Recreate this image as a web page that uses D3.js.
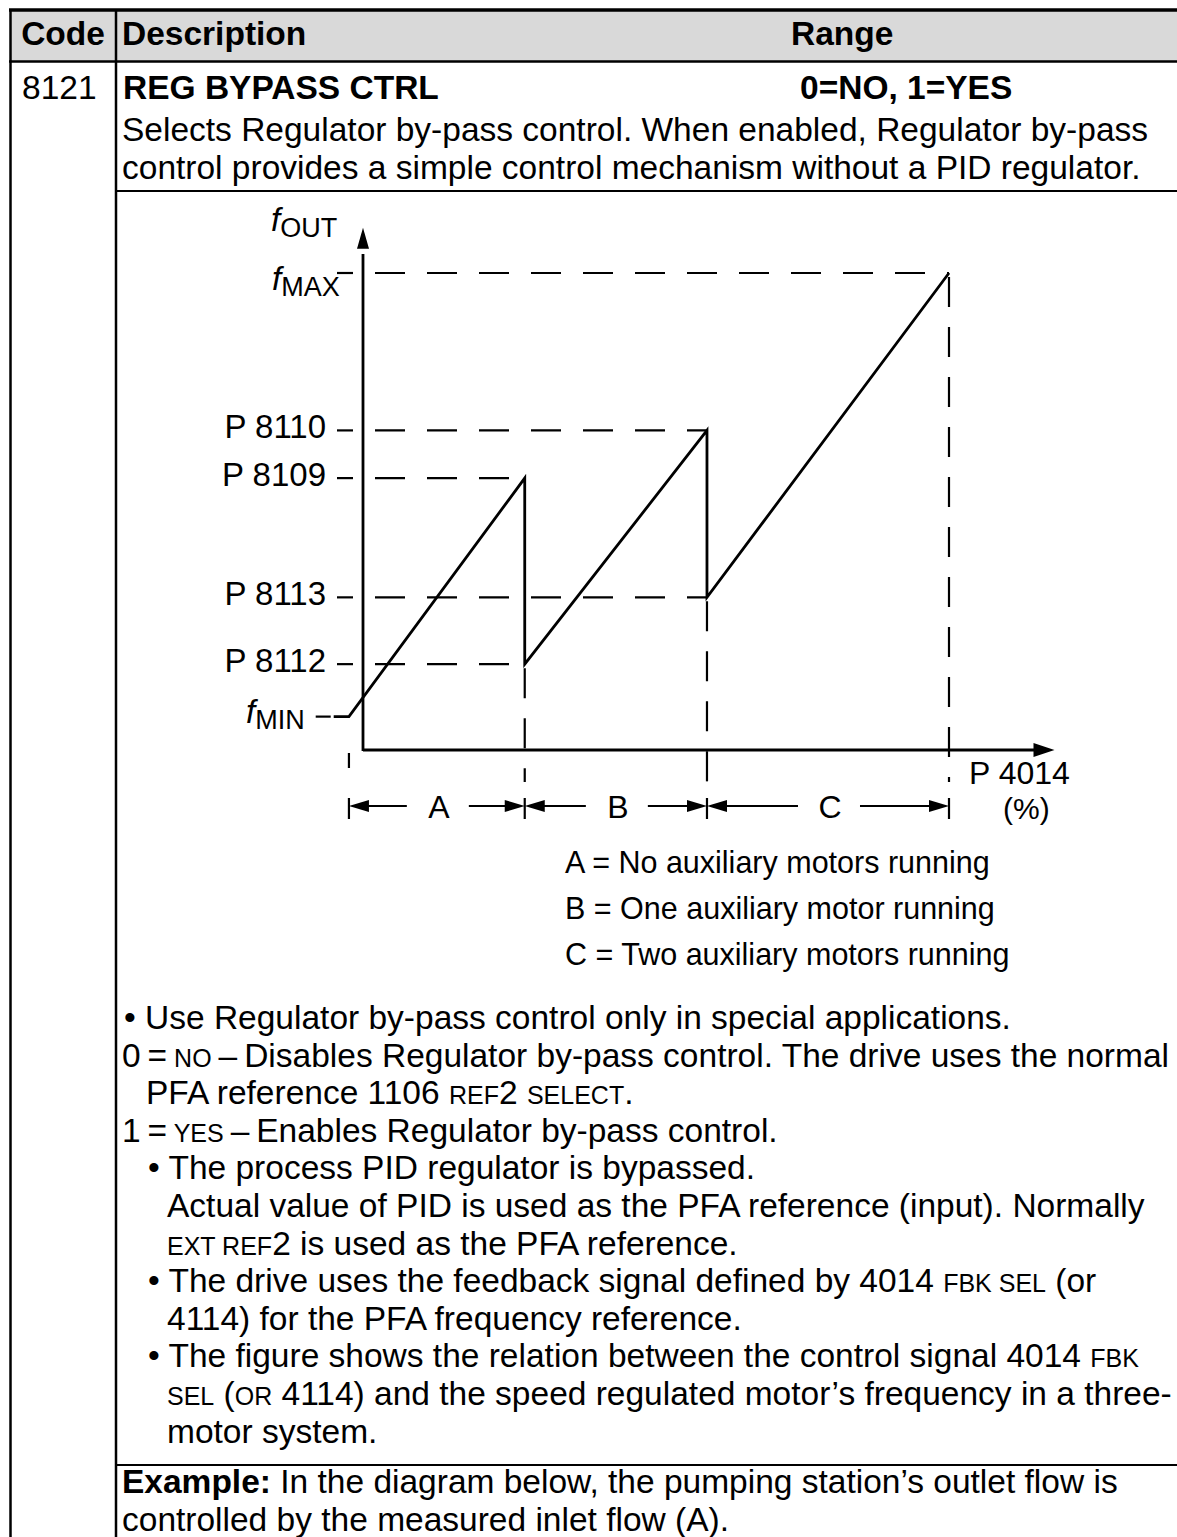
<!DOCTYPE html>
<html>
<head>
<meta charset="utf-8">
<script src="https://cdn.jsdelivr.net/npm/d3@7"></script>
<style>
  body { margin: 0; background: #fff; }
  svg { display: block; font-family: "Liberation Sans", Arial, sans-serif; }
</style>
</head>
<body>
<script>
// table header and parameter row
var headCols = ["Code", "Description", "Range"];
var paramCode = "8121";
var paramName = "REG BYPASS CTRL";
var paramRange = "0=NO, 1=YES";

var introLines = [
  "Selects Regulator by-pass control. When enabled, Regulator by-pass",
  "control provides a simple control mechanism without a PID regulator."
];

// diagram: output frequency levels (% of fMAX) and switching points (P 4014 %)
var levelNames  = ["MAX", "P 8110", "P 8109", "P 8113", "P 8112", "MIN"];
var levelValues = [100, 67, 57, 32, 18, 7];
var stageNames  = ["A", "B", "C"];
var stageBounds = [-2.4, 27.6, 58.7, 100];
var curveX = [-5, -2.4, 27.6, 27.6, 58.7, 58.7, 100];
var curveY = [7, 7, 57, 18, 67, 32, 100];

var legendLines = [
  "A = No auxiliary motors running",
  "B = One auxiliary motor running",
  "C = Two auxiliary motors running"
];

// body text, segments: plain string or [text, "sc" | "b"]
var bodyLines = [
  [124, ["•  Use Regulator by-pass control only in special applications."]],
  [122, ["0", [" ", "sc"], "=", [" NO ", "sc"], "–", [" ", "sc"], "Disables Regulator by-pass control. The drive uses the normal"]],
  [146, ["PFA reference 1106 ", ["REF", "sc"], "2 ", ["SELECT", "sc"], "."]],
  [122, ["1", [" ", "sc"], "=", [" YES ", "sc"], "–", [" ", "sc"], "Enables Regulator by-pass control."]],
  [148, ["• The process PID regulator is bypassed."]],
  [167, ["Actual value of PID is used as the PFA reference (input). Normally"]],
  [167, [["EXT REF", "sc"], "2 is used as the PFA reference."]],
  [148, ["• The drive uses the feedback signal defined by 4014 ", ["FBK SEL", "sc"], " (or"]],
  [167, ["4114) for the PFA frequency reference."]],
  [148, ["• The figure shows the relation between the control signal 4014 ", ["FBK", "sc"]]],
  [167, [["SEL", "sc"], " (", ["OR", "sc"], " 4114) and the speed regulated motor’s frequency in a three-"]],
  [167, ["motor system."]]
];
var exampleLines = [
  [["Example:", "b"], " In the diagram below, the pumping station’s outlet flow is"],
  ["controlled by the measured inlet flow (A)."]
];

var W = 1177, H = 1537;
var fs = 33.5, scFs = 25;

var svg = d3.select("body").append("svg")
    .attr("width", W)
    .attr("height", H);

function writeLine(g, x, y, segs, size) {
  var t = g.append("text").attr("x", x).attr("y", y).attr("font-size", size || fs);
  segs.forEach(function(s) {
    if (typeof s === "string") { t.append("tspan").text(s); return; }
    var sp = t.append("tspan").text(s[0]);
    if (s[1] === "sc") sp.attr("font-size", scFs);
    if (s[1] === "b") sp.attr("font-weight", "bold");
  });
  return t;
}

// ---- table frame ----
svg.append("rect").attr("x", 10).attr("y", 10).attr("width", W).attr("height", 52).attr("fill", "#d9d9d9");
svg.append("line").attr("x1", 9).attr("x2", W).attr("y1", 10).attr("y2", 10).attr("stroke", "#000").attr("stroke-width", 3.5);
svg.append("line").attr("x1", 9).attr("x2", W).attr("y1", 61.5).attr("y2", 61.5).attr("stroke", "#000").attr("stroke-width", 2.5);
[10.5, 116].forEach(function(x) {
  svg.append("line").attr("x1", x).attr("x2", x).attr("y1", 9).attr("y2", H).attr("stroke", "#000").attr("stroke-width", 2.5);
});
[191, 1465].forEach(function(y) {
  svg.append("line").attr("x1", 116).attr("x2", W).attr("y1", y).attr("y2", y).attr("stroke", "#000").attr("stroke-width", 2);
});

var hdr = svg.append("g").attr("font-weight", "bold").attr("font-size", fs);
hdr.append("text").attr("x", 63).attr("y", 45).attr("text-anchor", "middle").text(headCols[0]);
hdr.append("text").attr("x", 122).attr("y", 45).text(headCols[1]);
hdr.append("text").attr("x", 791).attr("y", 45).text(headCols[2]);

svg.append("text").attr("x", 22).attr("y", 99).attr("font-size", fs).text(paramCode);
hdr.append("text").attr("x", 123).attr("y", 99).text(paramName);
hdr.append("text").attr("x", 800).attr("y", 99).text(paramRange);

introLines.forEach(function(l, i) {
  svg.append("text").attr("x", 122).attr("y", 141 + i * 38).attr("font-size", fs).text(l);
});

// ---- diagram ----
var x = d3.scaleLinear().domain([0, 100]).range([363, 949]);
var y = d3.scaleLinear().domain([0, 100]).range([750, 273]);
var d = svg.append("g");

// dashed level lines and labels
var levelEnds = [100, 58.7, 27.6, 58.7, 27.6, null];
levelNames.forEach(function(name, i) {
  var yy = y(levelValues[i]);
  if (levelEnds[i] !== null) {
    d.append("line").attr("x1", x(0) + 12).attr("x2", x(levelEnds[i])).attr("y1", yy).attr("y2", yy)
      .attr("stroke", "#000").attr("stroke-width", 2.2).attr("stroke-dasharray", "30,22");
    d.append("line").attr("x1", x(0) - 26).attr("x2", x(0) - 10).attr("y1", yy).attr("y2", yy)
      .attr("stroke", "#000").attr("stroke-width", 2.2);
  } else {
    d.append("line").attr("x1", x(-5) - 18).attr("x2", x(-5) - 3).attr("y1", yy).attr("y2", yy)
      .attr("stroke", "#000").attr("stroke-width", 2.2);
  }
  if (name.indexOf("P") === 0) {
    d.append("text").attr("x", 326).attr("y", yy + 8).attr("text-anchor", "end").attr("font-size", 33).text(name);
  }
});

// f labels with subscripts
function fLabel(xx, yy, sub) {
  var t = d.append("text").attr("x", xx).attr("y", yy).attr("font-size", 33);
  t.append("tspan").attr("font-style", "italic").text("f");
  t.append("tspan").attr("font-size", 27).attr("dy", 6).text(sub);
}
fLabel(271, 231, "OUT");
fLabel(272, 290, levelNames[0]);
fLabel(246, y(levelValues[5]) + 6, levelNames[5]);

// vertical dashed lines at switching points
var dropLow = [null, 18, 32, 100];
stageBounds.forEach(function(b, i) {
  if (dropLow[i] === null) {
    d.append("line").attr("x1", x(b)).attr("x2", x(b)).attr("y1", 753).attr("y2", 768)
      .attr("stroke", "#000").attr("stroke-width", 2.2);
  } else {
    d.append("line").attr("x1", x(b)).attr("x2", x(b)).attr("y1", y(dropLow[i]) + 4).attr("y2", 782)
      .attr("stroke", "#000").attr("stroke-width", 2.2).attr("stroke-dasharray", "30,20");
  }
});

// axes with arrow heads
d.append("line").attr("x1", x(0)).attr("x2", x(0)).attr("y1", y(0) + 1).attr("y2", y(104))
  .attr("stroke", "#000").attr("stroke-width", 2.8);
d.append("path").attr("d", "M" + x(0) + "," + y(109.5) + "l-6,21h12z").attr("fill", "#000");
d.append("line").attr("x1", x(0)).attr("x2", x(115)).attr("y1", y(0)).attr("y2", y(0))
  .attr("stroke", "#000").attr("stroke-width", 2.8);
d.append("path").attr("d", "M" + x(118) + "," + y(0) + "l-21,-7v14z").attr("fill", "#000");

d.append("text").attr("x", 969).attr("y", 784).attr("font-size", 32).text("P 4014");
d.append("text").attr("x", 1003).attr("y", 819).attr("font-size", 30).text("(%)");

// output frequency curve
var line = d3.line().x(function(v) { return x(v); }).y(function(v, i) { return y(curveY[i]); });
d.append("path").attr("d", line(curveX)).attr("fill", "none").attr("stroke", "#000")
  .attr("stroke-width", 2.8).attr("stroke-linejoin", "miter");

// stage arrows A/B/C
var ay = 806;
stageBounds.forEach(function(b) {
  d.append("line").attr("x1", x(b)).attr("x2", x(b)).attr("y1", ay - 8).attr("y2", ay + 13)
    .attr("stroke", "#000").attr("stroke-width", 2.2);
});
stageNames.forEach(function(s, i) {
  var x0 = x(stageBounds[i]), x1 = x(stageBounds[i + 1]), xm = (x0 + x1) / 2;
  d.append("line").attr("x1", x0 + 18).attr("x2", xm - 30).attr("y1", ay).attr("y2", ay).attr("stroke", "#000").attr("stroke-width", 2);
  d.append("line").attr("x1", xm + 32).attr("x2", x1 - 18).attr("y1", ay).attr("y2", ay).attr("stroke", "#000").attr("stroke-width", 2);
  d.append("path").attr("d", "M" + x0 + "," + ay + "l20,-6v12z").attr("fill", "#000");
  d.append("path").attr("d", "M" + x1 + "," + ay + "l-20,-6v12z").attr("fill", "#000");
  d.append("text").attr("x", xm + 2).attr("y", ay + 12).attr("text-anchor", "middle").attr("font-size", 32).text(s);
});

legendLines.forEach(function(l, i) {
  svg.append("text").attr("x", 565).attr("y", 873 + i * 46).attr("font-size", 30.5).text(l);
});

// ---- body text ----
bodyLines.forEach(function(r, i) {
  writeLine(svg, r[0], 1029 + i * 37.6, r[1]);
});
exampleLines.forEach(function(segs, i) {
  writeLine(svg, 122, 1493 + i * 37.6, segs);
});
</script>
</body>
</html>
